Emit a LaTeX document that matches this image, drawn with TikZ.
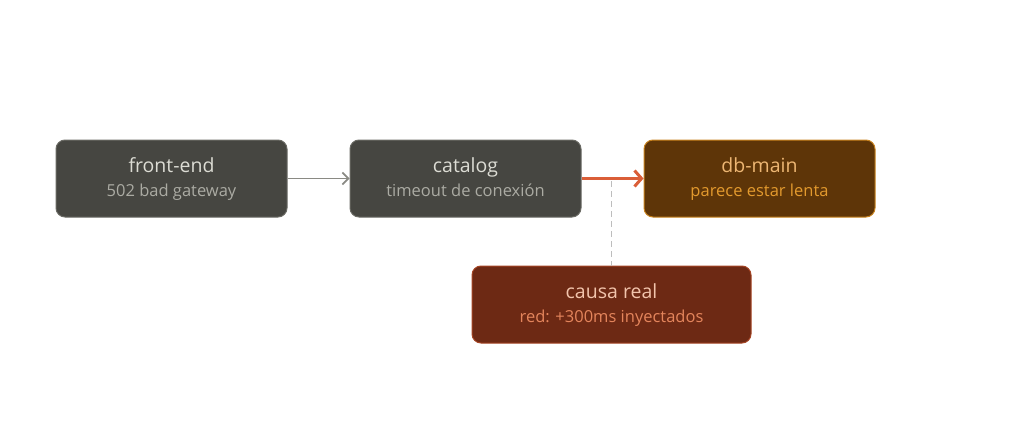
\documentclass[tikz,border=0pt]{standalone}
\usepackage{fontspec}
\setmainfont{Open Sans}
\usetikzlibrary{arrows.meta}
\definecolor{grayfill}{HTML}{464641}
\definecolor{grayline}{HTML}{6A6A64}
\definecolor{graytitle}{HTML}{DCDCD4}
\definecolor{graysub}{HTML}{ABABA3}
\definecolor{dbfill}{HTML}{5E3508}
\definecolor{dbline}{HTML}{C8821E}
\definecolor{dbtitle}{HTML}{EDB673}
\definecolor{dbsub}{HTML}{E39A2E}
\definecolor{rcfill}{HTML}{6D2914}
\definecolor{rcline}{HTML}{A54424}
\definecolor{rctitle}{HTML}{F2C4AC}
\definecolor{rcsub}{HTML}{E4855C}
\definecolor{arrgray}{HTML}{8A8A84}
\definecolor{arrred}{HTML}{DA5E38}
\definecolor{dashgray}{HTML}{BDBDBD}
\tikzset{
  box/.style={rounded corners=9pt, minimum width=231pt, minimum height=77pt, line width=1pt, inner sep=0pt},
  graybox/.style={box, fill=grayfill, draw=grayline},
  dbbox/.style={box, fill=dbfill, draw=dbline},
  rcbox/.style={box, fill=rcfill, draw=rcline, minimum width=279pt},
  ttl/.style={anchor=base, inner sep=0pt, font=\fontsize{19.5}{22}\selectfont},
  sub/.style={anchor=base, inner sep=0pt, font=\fontsize{16.5}{19}\selectfont},
}
\begin{document}
\begin{tikzpicture}[x=1pt,y=-1pt]
\useasboundingbox (0,0) rectangle (1024,420);
\node[graybox] (fe) at (171.5,178.5) {};
\node[ttl, text=graytitle] (fet) at (171.5,172) {front-end};
\node[sub, text=graysub] (fes) at (171.5,196) {502 bad gateway};
\node[graybox] (cat) at (465.5,178.5) {};
\node[ttl, text=graytitle] (catt) at (465.5,172) {catalog};
\node[sub, text=graysub] (cats) at (465.5,196) {timeout de conexión};
\node[dbbox] (db) at (759.5,178.5) {};
\node[ttl, text=dbtitle] (dbt) at (759.5,172) {db-main};
\node[sub, text=dbsub] (dbs) at (759.5,196) {parece estar lenta};
\node[rcbox] (rc) at (611.5,304.5) {};
\node[ttl, text=rctitle] (rct) at (611.5,298) {causa real};
\node[sub, text=rcsub] (rcs) at (611.5,322) {red: +300ms inyectados};
\draw[arrgray, line width=1.6pt, -{Straight Barb[length=6pt,width=12pt]}] (fe.east) -- (cat.west);
\draw[arrred, line width=3pt, -{Straight Barb[length=7pt,width=16pt]}] (cat.east) -- (db.west);
\coordinate (dtop) at (611.5,181);
\draw[dashgray, line width=1pt, dash pattern=on 6pt off 4pt] (dtop) -- (rc.north -| dtop);
\end{tikzpicture}
\end{document}
